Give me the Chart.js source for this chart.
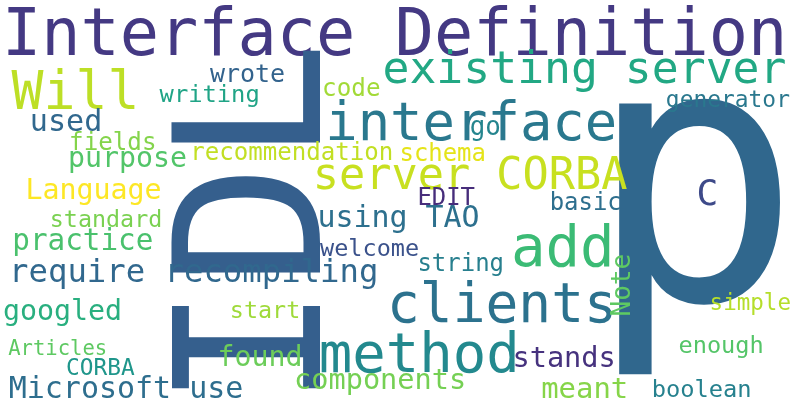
<!DOCTYPE html>
<html>
<head>
<meta charset="utf-8">
<script src="https://cdn.jsdelivr.net/npm/chart.js@4"></script>
<style>
  html, body { margin: 0; padding: 0; background: #fff; }
  #wrap { width: 800px; height: 400px; }
</style>
</head>
<body>
<div id="wrap"><canvas id="cloud"></canvas></div>
<script>
// word cloud data: word, centre (in 800x400 layout units), extent along reading direction, colour
const words = ['Interface Definition', 'IDL', 'p', 'Will', 'existing server', 'interface',
  'server CORBA', 'add', 'clients', 'method', 'using TAO', 'require recompiling',
  'Microsoft use', 'components', 'meant', 'boolean', 'stands', 'found', 'googled',
  'Articles', 'CORBA', 'start', 'practice', 'standard', 'Language', 'purpose', 'fields',
  'used', 'writing', 'wrote', 'code', 'go', 'generator', 'recommendation', 'schema',
  'EDIT', 'C', 'basic', 'welcome', 'string', 'Note', 'simple', 'enough'];
const xs = [395, 245, 698, 73, 585, 472, 472, 562, 502, 418, 399, 195,
  126, 380, 584, 702, 564, 260, 62, 57, 101, 265, 83, 106, 94, 128, 113,
  66, 209, 247, 352, 485, 728, 293, 443, 447, 707, 586, 369, 461, 620, 751, 721];
const ys = [30, 220, 238, 88, 70, 120, 172, 245, 302, 352, 218, 273,
  386, 382, 388, 388, 356, 355, 312, 347, 366, 309, 241, 218, 191, 162, 140,
  119, 95, 73, 86, 130, 101, 150, 151, 196, 192, 200, 247, 264, 285, 303, 346];
const extents = [774, 340, 165, 123, 400, 285, 310, 95, 220, 193, 158, 361,
  232, 167, 83, 96, 98, 80, 115, 97, 67, 66, 137, 108, 132, 115, 83,
  67, 98, 74, 55, 28, 122, 197, 82, 55, 17, 68, 98, 82, 60, 78, 82];
const colors = ['#443983', '#355f8d', '#30678d', '#bddf26', '#22a884', '#2a788e',
  '#c8e020', '#3bbb75', '#2c728e', '#23898e', '#2d708e', '#31688e',
  '#2e6e8e', '#75d054', '#86d549', '#26818e', '#46327e', '#6ccd5a', '#29af7f',
  '#5ec962', '#1f968b', '#9fda3a', '#4ac16d', '#7ad151', '#fde725', '#52c569', '#84d44b',
  '#31688e', '#20a486', '#33638d', '#a2da37', '#25858e', '#2a788e', '#c2df23', '#e5e419',
  '#472d7b', '#3e4a89', '#2e6f8e', '#3b528b', '#277f8e', '#5ec962', '#b5de2b', '#54c568'];
const rotated = ['IDL', 'Note'];

const FONT = '"DejaVu Sans Mono"';

const wordPlugin = {
  id: 'words',
  afterDatasetsDraw(chart) {
    const ctx = chart.ctx;
    const xScale = chart.scales.x;
    const yScale = chart.scales.y;
    chart.data.datasets[0].data.forEach((pt, i) => {
      const px = xScale.getPixelForValue(pt.x);
      const py = yScale.getPixelForValue(pt.y);
      ctx.save();
      // size the font so the glyphs span the wanted extent
      ctx.font = '100px ' + FONT;
      const ref = ctx.measureText(words[i]);
      const refW = ref.actualBoundingBoxRight + ref.actualBoundingBoxLeft;
      const size = 100 * extents[i] / refW;
      ctx.font = size + 'px ' + FONT;
      ctx.fillStyle = colors[i];
      ctx.textAlign = 'left';
      ctx.textBaseline = 'alphabetic';
      ctx.translate(px, py);
      if (rotated.includes(words[i])) ctx.rotate(-Math.PI / 2);
      const m = ctx.measureText(words[i]);
      const w = m.actualBoundingBoxRight + m.actualBoundingBoxLeft;
      const h = m.actualBoundingBoxAscent + m.actualBoundingBoxDescent;
      ctx.fillText(words[i], m.actualBoundingBoxLeft - w / 2, m.actualBoundingBoxAscent - h / 2);
      ctx.restore();
    });
  }
};

new Chart(document.getElementById('cloud'), {
  type: 'scatter',
  data: {
    datasets: [{
      data: words.map((w, i) => ({ x: xs[i], y: ys[i] })),
      pointRadius: 0
    }]
  },
  options: {
    responsive: true,
    maintainAspectRatio: false,
    animation: false,
    layout: { padding: 0 },
    plugins: { legend: { display: false }, tooltip: { enabled: false } },
    scales: {
      x: { display: false, min: 0, max: 800 },
      y: { display: false, min: 0, max: 400, reverse: true }
    }
  },
  plugins: [wordPlugin]
});
</script>
</body>
</html>
